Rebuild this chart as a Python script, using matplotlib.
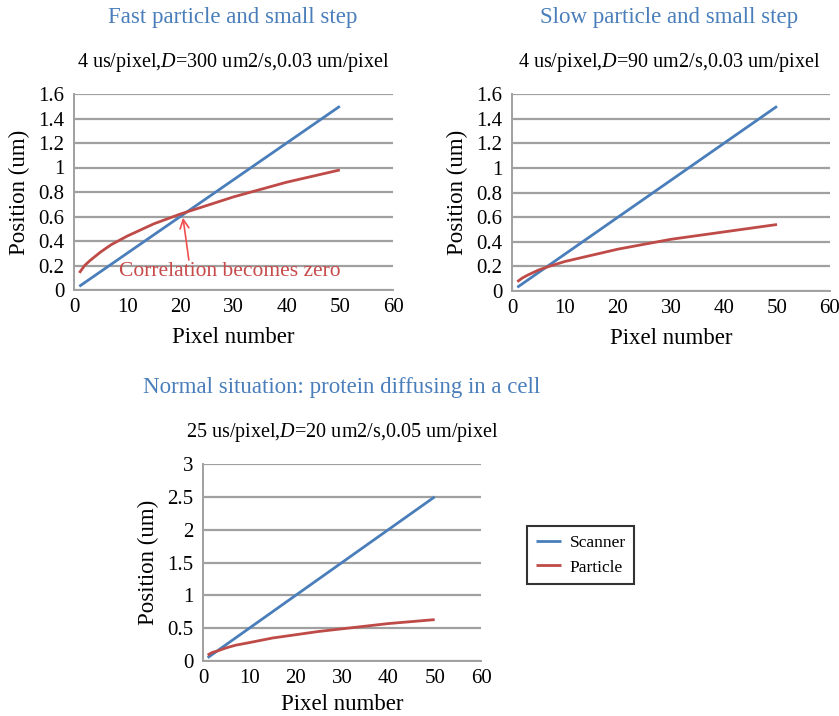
import matplotlib.pyplot as plt
from matplotlib.ticker import FuncFormatter

plt.rcParams['font.family'] = ['Liberation Serif', 'DejaVu Serif']
plt.rcParams['mathtext.fontset'] = 'custom'
plt.rcParams['mathtext.rm'] = 'Liberation Serif'
plt.rcParams['mathtext.it'] = 'Liberation Serif:italic'

# 数据
pixel_scan = [1, 50]
scan_fast = [0.03, 1.5]
scan_slow = [0.03, 1.5]
scan_normal = [0.05, 2.5]

pixel_part = [1, 2, 3, 5, 7, 10, 15, 20, 25, 30, 35, 40, 45, 50]
part_fast = [0.14, 0.20, 0.24, 0.31, 0.37, 0.44, 0.54, 0.62, 0.69, 0.76, 0.82, 0.88, 0.93, 0.98]
part_slow = [0.076, 0.107, 0.13, 0.17, 0.20, 0.24, 0.29, 0.34, 0.38, 0.42, 0.45, 0.48, 0.51, 0.54]
part_normal = [0.09, 0.13, 0.15, 0.20, 0.24, 0.28, 0.35, 0.40, 0.45, 0.49, 0.53, 0.57, 0.60, 0.63]

titles = ['Fast particle and small step',
          'Slow particle and small step',
          'Normal situation: protein diffusing in a cell']
subtitles = [r'4 us/pixel,$D$=300 um2/s,0.03 um/pixel',
             r'4 us/pixel,$D$=90 um2/s,0.03 um/pixel',
             r'25 us/pixel,$D$=20 um2/s,0.05 um/pixel']

blue = '#4a7ebb'
red = '#be4b48'
grid = '#a0a0a0'

W, H = 839, 716
fig = plt.figure(figsize=(W / 100, H / 100), dpi=100)


def make_axes(left, top, right, bottom):
    return fig.add_axes([left / W, 1 - bottom / H, (right - left) / W, (bottom - top) / H])


def style(ax, ymax, ystep, xpad=7):
    ax.set_xlim(0, 60)
    ax.set_ylim(0, ymax)
    ax.set_xticks(range(0, 61, 10))
    yt = [i * ystep for i in range(int(round(ymax / ystep)) + 1)]
    ax.set_yticks(yt)
    ax.yaxis.set_major_formatter(FuncFormatter(lambda v, p: '%g' % round(v, 2)))
    ax.tick_params(length=0, labelsize=15, pad=7)
    ax.tick_params(axis='x', pad=6)
    ax.grid(axis='y', color=grid, lw=1.6)
    ax.set_axisbelow(True)
    for s in ['top', 'right']:
        ax.spines[s].set_visible(False)
    for s in ['left', 'bottom']:
        ax.spines[s].set_color(grid)
        ax.spines[s].set_linewidth(1.4)
    ax.set_xlabel('Pixel number', fontsize=16.5, labelpad=xpad)
    ax.set_ylabel('Position (um)', fontsize=16.5, labelpad=6)


ax1 = make_axes(74, 94, 393, 290)
ax2 = make_axes(512, 94, 830, 291)
ax3 = make_axes(203, 464, 481, 661)

for ax, sc, pt, ymax, ystep, xpad in [(ax1, scan_fast, part_fast, 1.6, 0.2, 7),
                                      (ax2, scan_slow, part_slow, 1.6, 0.2, 7),
                                      (ax3, scan_normal, part_normal, 3, 0.5, 4)]:
    style(ax, ymax, ystep, xpad)
    ax.plot(pixel_scan, sc, color=blue, lw=2, label='Scanner', solid_capstyle='butt')
    ax.plot(pixel_part, pt, color=red, lw=2, label='Particle', solid_capstyle='butt')

# 标注
ax1.annotate('', xy=(20.5, 0.59), xytext=(21.6, 0.245),
             arrowprops=dict(arrowstyle='->', color='#f05050', lw=1.2,
                             shrinkA=0, shrinkB=0, mutation_scale=16))
ax1.text(29.3, 0.15, 'Correlation becomes zero', color='#c84b4b', fontsize=15.5,
         ha='center', va='center')

# 标题
for (cx, ty, sy), t, s in zip([(233, 18, 62), (669, 18, 62), (342, 387, 432)], titles, subtitles):
    fig.text(cx / W, 1 - ty / H, t, color=blue, fontsize=16.5, ha='center', va='center')
    fig.text(cx / W, 1 - sy / H, s, color='black', fontsize=14.5, ha='center', va='center')

# 图例
leg = ax3.legend(loc='center left', bbox_to_anchor=(1.165, 0.538), frameon=True,
                 fancybox=False, fontsize=12.5, handlelength=1.45, handletextpad=0.5,
                 borderpad=0.5, borderaxespad=0)
leg.get_frame().set_edgecolor('black')
leg.get_frame().set_linewidth(1.5)

fig.savefig('out.png', dpi=100)
